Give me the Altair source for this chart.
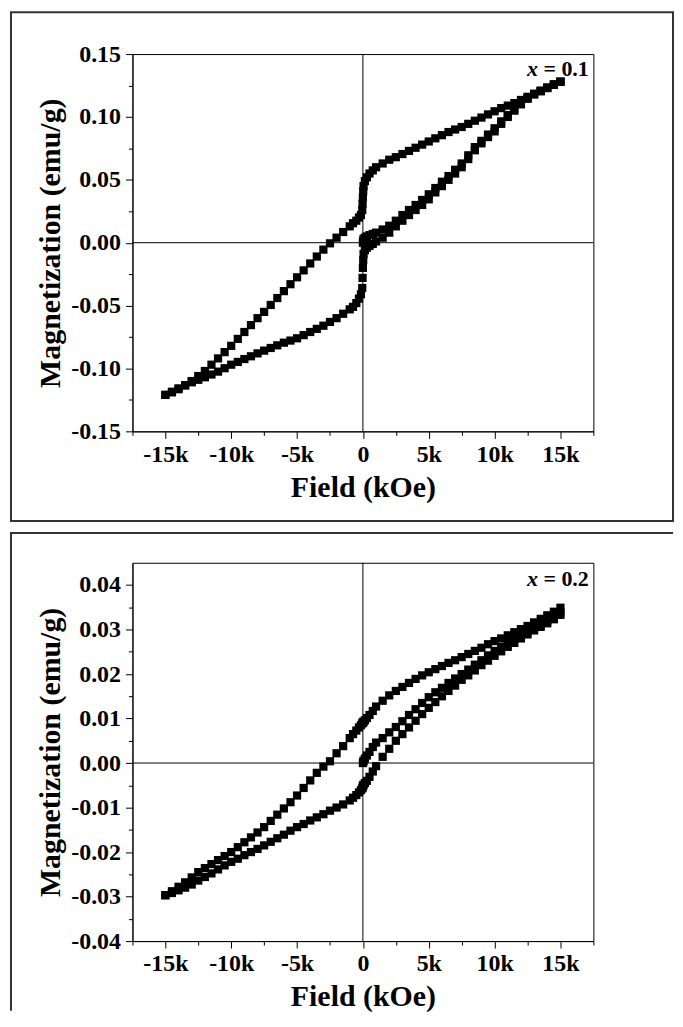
import altair as alt
import pandas as pd

# ---------------- data ----------------
field_oe = [-15000, -14500, -14000, -13500, -13000, -12500, -12000, -11500, -11000, -10500,
            -10000, -9500, -9000, -8500, -8000, -7500, -7000, -6500, -6000, -5500,
            -5000, -4500, -4000, -3500, -3000, -2500, -2000, -1500, -1000, -750,
            -500, -300, -150, -50, -25, 0, 25, 50, 150, 300,
            500, 750, 1000, 1500, 2000, 2500, 3000, 3500, 4000, 4500,
            5000, 5500, 6000, 6500, 7000, 7500, 8000, 8500, 9000, 9500,
            10000, 10500, 11000, 11500, 12000, 12500, 13000, 13500, 14000, 14500, 15000]

field_virgin = [0, 25, 50, 150, 300, 500, 750, 1000, 1500, 2000, 2500, 3000, 3500, 4000, 4500,
                5000, 5500, 6000, 6500, 7000, 7500, 8000, 8500, 9000, 9500, 10000, 10500,
                11000, 11500, 12000, 12500, 13000, 13500, 14000, 14500, 15000]

# x = 0.1
m_desc_1 = [-0.121, -0.119, -0.1165, -0.1135, -0.110, -0.106, -0.102, -0.097, -0.092, -0.087,
            -0.082, -0.0765, -0.071, -0.0655, -0.060, -0.055, -0.0495, -0.044, -0.0385, -0.033,
            -0.0275, -0.022, -0.0165, -0.011, -0.0055, -0.0005, 0.004, 0.0085, 0.013, 0.0155,
            0.0175, 0.020, 0.022, 0.026, 0.031, 0.036, 0.041, 0.045, 0.049, 0.052,
            0.055, 0.0575, 0.060, 0.063, 0.066, 0.068, 0.0705, 0.073, 0.0755, 0.078,
            0.0805, 0.083, 0.0855, 0.088, 0.090, 0.092, 0.0945, 0.097, 0.0995, 0.102,
            0.1045, 0.107, 0.109, 0.111, 0.1135, 0.116, 0.1185, 0.121, 0.1235, 0.126, 0.128]
m_asc_1 = [-0.121, -0.1185, -0.1158, -0.1133, -0.111, -0.109, -0.107, -0.1048, -0.1025, -0.0998,
           -0.097, -0.0948, -0.0925, -0.0903, -0.088, -0.0858, -0.0837, -0.0816, -0.0795, -0.0778,
           -0.076, -0.0735, -0.071, -0.0685, -0.066, -0.063, -0.060, -0.0565, -0.053, -0.051,
           -0.048, -0.0445, -0.041, -0.036, -0.028, -0.020, -0.014, -0.009, -0.006, -0.004,
           -0.0025, -0.001, 0.001, 0.004, 0.008, 0.013, 0.0175, 0.022, 0.026, 0.030,
           0.0345, 0.040, 0.045, 0.050, 0.055, 0.060, 0.0665, 0.0735, 0.079, 0.084,
           0.0885, 0.0945, 0.100, 0.105, 0.110, 0.1145, 0.118, 0.1205, 0.123, 0.1255, 0.128]
m_virgin_1 = [0.000, 0.0015, 0.003, 0.004, 0.005, 0.006, 0.007, 0.008, 0.0105, 0.0135, 0.0175,
              0.022, 0.026, 0.030, 0.034, 0.0385, 0.0435, 0.0485, 0.053, 0.058, 0.063, 0.0695,
              0.076, 0.081, 0.086, 0.091, 0.0965, 0.1015, 0.106, 0.1105, 0.1148, 0.118, 0.1205,
              0.123, 0.1255, 0.128]

# x = 0.2
m_desc_2 = [-0.0297, -0.0288, -0.0278, -0.0268, -0.0257, -0.0245, -0.0236, -0.0227, -0.0218, -0.0209,
            -0.0200, -0.0189, -0.0178, -0.0167, -0.0156, -0.0144, -0.0130, -0.0116, -0.0102, -0.0088,
            -0.0073, -0.0056, -0.0039, -0.0022, -0.0008, 0.0004, 0.0022, 0.0038, 0.0056, 0.0065,
            0.0073, 0.0080, 0.0085, 0.0089, 0.0090, 0.0091, 0.0092, 0.0093, 0.0096, 0.0101,
            0.0108, 0.0117, 0.0127, 0.0140, 0.0152, 0.0162, 0.0171, 0.0180, 0.0189, 0.0197,
            0.0204, 0.0211, 0.0218, 0.0225, 0.0231, 0.0238, 0.0245, 0.0252, 0.0259, 0.0267,
            0.0274, 0.0280, 0.0287, 0.0294, 0.0301, 0.0308, 0.0316, 0.0324, 0.0332, 0.0340, 0.0349]
m_asc_2 = [-0.0297, -0.0292, -0.0286, -0.0280, -0.0273, -0.0264, -0.0256, -0.0248, -0.0239, -0.0230,
           -0.0222, -0.0215, -0.0207, -0.0200, -0.0193, -0.0185, -0.0177, -0.0169, -0.0161, -0.0152,
           -0.0144, -0.0137, -0.0129, -0.0122, -0.0115, -0.0107, -0.0100, -0.0093, -0.0084, -0.0078,
           -0.0072, -0.0066, -0.0061, -0.0057, -0.0055, -0.0052, -0.0050, -0.0049, -0.0045, -0.0040,
           -0.0031, -0.0019, -0.0007, 0.0014, 0.0032, 0.0050, 0.0065, 0.0080, 0.0095, 0.0110,
           0.0124, 0.0137, 0.0150, 0.0162, 0.0174, 0.0187, 0.0197, 0.0208, 0.0220, 0.0230,
           0.0241, 0.0251, 0.0261, 0.0270, 0.0280, 0.0289, 0.0298, 0.0306, 0.0314, 0.0323, 0.0333]
m_virgin_2 = [0.0000, 0.0002, 0.0005, 0.0010, 0.0017, 0.0025, 0.0036, 0.0046, 0.0056, 0.0069, 0.0081,
              0.0094, 0.0108, 0.0121, 0.0135, 0.0148, 0.0159, 0.0169, 0.0180, 0.0190, 0.0200, 0.0210,
              0.0221, 0.0231, 0.0242, 0.0252, 0.0261, 0.0270, 0.0279, 0.0287, 0.0295, 0.0303, 0.0311,
              0.0320, 0.0329, 0.0338]

x_ticks = [-17500, -15000, -12500, -10000, -7500, -5000, -2500, 0, 2500, 5000, 7500,
           10000, 12500, 15000, 17500]
y_ticks_1 = [-0.15, -0.125, -0.10, -0.075, -0.05, -0.025, 0.0, 0.025, 0.05, 0.075, 0.10, 0.125, 0.15]
y_ticks_2 = [-0.04, -0.035, -0.03, -0.025, -0.02, -0.015, -0.01, -0.005, 0.0, 0.005, 0.01,
             0.015, 0.02, 0.025, 0.03, 0.035, 0.04]

labels_1 = ["x", "= 0.1"]
labels_2 = ["x", "= 0.2"]

FONT = "Liberation Serif, Times New Roman, Times, serif"


def build_df(m_desc, m_asc, m_virgin):
    rows = []
    for h, m in zip(field_oe, m_desc):
        rows.append({"H": h, "M": m, "branch": "down"})
    for h, m in zip(field_oe, m_asc):
        rows.append({"H": h, "M": m, "branch": "up"})
    for h, m in zip(field_virgin, m_virgin):
        rows.append({"H": h, "M": m, "branch": "virgin"})
    return pd.DataFrame(rows)


def panel(df, ydomain, yticks, ymajor, label_txt, label_m, h, first):
    x_enc = alt.X(
        "H:Q",
        scale=alt.Scale(domain=[-17500, 17500], nice=False, zero=False),
        axis=alt.Axis(
            values=x_ticks,
            title="Field (kOe)",
            labelExpr="abs(round(datum.value/2500)) % 2 == 0 ? (datum.value == 0 ? '0' : (datum.value < 0 ? '-' : '') + format(abs(datum.value)/1000, 'd') + 'k') : ''",
            tickSize={"condition": {"test": "abs(round(datum.value/2500)) % 2 == 0", "value": 7}, "value": 4},
            labelPadding=4,
            titlePadding=6,
            labelFlush=False,
            labelOverlap=False,
        ),
    )
    y_enc = alt.Y(
        "M:Q",
        scale=alt.Scale(domain=ydomain, nice=False, zero=False),
        axis=alt.Axis(
            values=yticks,
            title="Magnetization (emu/g)",
            labelExpr=ymajor + " ? (datum.value < 0 ? '-' : '') + format(abs(datum.value), '.2f') : ''",
            tickSize={"condition": {"test": ymajor, "value": 7}, "value": 4},
            labelPadding=5,
            titlePadding=5,
            labelFlush=False,
            labelOverlap=False,
        ),
    )
    one = pd.DataFrame({"H": [0], "M": [0]})
    base = alt.Chart(one)
    if first:
        frame = base.mark_rect(fillOpacity=0, stroke="#333333", strokeWidth=2).encode(
            x=alt.value(-122), x2=alt.value(543), y=alt.value(-42), y2=alt.value(469)
        )
        frames = [frame]
    else:
        top = base.mark_rule(color="#333333", strokeWidth=2).encode(
            x=alt.value(-123), x2=alt.value(543), y=alt.value(-30)
        )
        left = base.mark_rule(color="#333333", strokeWidth=2).encode(
            x=alt.value(-122), y=alt.value(-31), y2=alt.value(450)
        )
        frames = [top, left]

    vrule = base.mark_rule(color="black", strokeWidth=1).encode(x=x_enc)
    hrule = base.mark_rule(color="black", strokeWidth=1).encode(y=y_enc)
    pts = alt.Chart(df).mark_square(size=68, color="black", opacity=1, strokeWidth=0).encode(
        x=x_enc, y=y_enc
    )
    tdf = pd.DataFrame({"H": [17150], "M": [label_m], "t": [label_txt[1]]})
    xdf = pd.DataFrame({"H": [17150], "M": [label_m], "t": [label_txt[0]]})
    t_eq = alt.Chart(tdf).mark_text(
        align="right", baseline="alphabetic", font=FONT, fontSize=22, fontWeight="bold", color="black"
    ).encode(x=x_enc, y=y_enc, text="t:N")
    t_x = alt.Chart(xdf).mark_text(
        align="right", baseline="alphabetic", font=FONT, fontSize=22, fontWeight="bold",
        fontStyle="italic", color="black", dx=-51
    ).encode(x=x_enc, y=y_enc, text="t:N")
    return alt.layer(*frames, vrule, hrule, pts, t_eq, t_x).properties(width=463, height=h)


df1 = build_df(m_desc_1, m_asc_1, m_virgin_1)
df2 = build_df(m_desc_2, m_asc_2, m_virgin_2)

p1 = panel(df1, [-0.15, 0.15], y_ticks_1, "abs(round(datum.value*40)) % 2 == 0",
           labels_1, 0.1325, 379, True)
p2 = panel(df2, [-0.04, 0.045], y_ticks_2, "abs(round(datum.value*200)) % 2 == 0",
           labels_2, 0.0398, 380, False)

chart = alt.vconcat(p1, p2, spacing=7).properties(
    padding={"left": 0, "top": 0, "right": 0, "bottom": 0}, background="white"
).configure_view(
    stroke="black", strokeWidth=1
).configure_axis(
    grid=False,
    domainColor="black",
    domainWidth=1,
    tickColor="black",
    tickWidth=1,
    labelColor="black",
    titleColor="black",
    labelFont=FONT,
    titleFont=FONT,
    labelFontWeight="bold",
    titleFontWeight="bold",
    labelFontSize=24,
    titleFontSize=30,
)

chart.save("out.html", embed_options={"renderer": "svg", "actions": False})
